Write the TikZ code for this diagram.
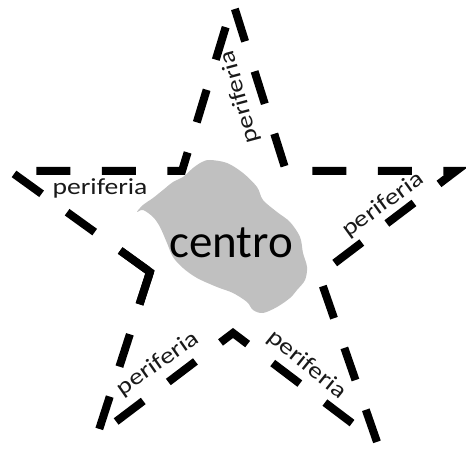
\documentclass[tikz,border=0pt]{standalone}
\usepackage{fontspec}
\setmainfont{Carlito}
\definecolor{blobgray}{RGB}{192,192,192}
\begin{document}
\begin{tikzpicture}[x=1pt,y=-1pt,
  starline/.style={line width=8pt,black,line join=miter,miter limit=10},
  perif/.style={inner sep=0pt,font=\fontsize{23}{25}\selectfont,text=black!90},
  centrolbl/.style={inner sep=0pt,font=\fontsize{47}{50}\selectfont,text=black}]
\useasboundingbox (0,0) rectangle (466,457);
% blob (centro)
\fill[blobgray] plot[smooth cycle,tension=0.55] coordinates {
 (210,160) (227,163) (243,173) (257,187) (263,200) (277,212) (290,222)
 (300,237) (303,253) (307,267) (305,280) (297,290) (290,298) (277,307)
 (263,313) (253,310) (247,302) (233,293) (217,287) (197,278) (183,268)
 (173,257) (167,243) (160,227) (153,217) (143,210) (137,212) (143,205)
 (153,198) (163,190) (173,182) (183,177) (193,168) (202,162)};
% star vertices
\coordinate (T) at (233,3);
\coordinate (TRi) at (286,171);
\coordinate (R) at (456,171);
\coordinate (RI) at (319,275);
\coordinate (BR) at (377,442);
\coordinate (BI) at (233,333);
\coordinate (BL) at (97,436);
\coordinate (LI) at (150,272);
\coordinate (L) at (10,171);
\coordinate (TLi) at (182,171);
\coordinate (S) at (120.2,250.5);
\coordinate (P) at (139.5,304.3);
\draw[starline,dash pattern=on 34pt off 31.46pt]
  (LI) -- (BL) -- (BI) -- (BR) -- (RI) -- (R) -- (TRi) -- (T) -- (TLi) -- (L) -- cycle;
\draw[starline] (S) -- (LI) -- (P);
% labels
\node[centrolbl] (centro) at (231,243) {centro};
\node[perif,rotate=105] (p1) at (240,97) {\scalebox{1.2}[1]{periferia}};
\node[perif] (p2) at (100,188) {\scalebox{1.2}[1]{periferia}};
\node[perif,rotate=36] (p3) at (383,205) {\scalebox{1.2}[1]{periferia}};
\node[perif,rotate=35] (p4) at (158,364) {\scalebox{1.2}[1]{periferia}};
\node[perif,rotate=-39] (p5) at (307,365) {\scalebox{1.2}[1]{periferia}};
\end{tikzpicture}
\end{document}
